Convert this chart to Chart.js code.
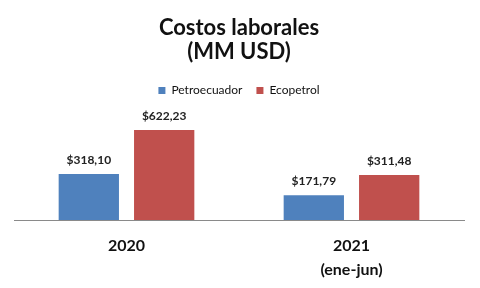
<!DOCTYPE html>
<html>
<head>
<meta charset="utf-8">
<script src="https://cdn.jsdelivr.net/npm/chart.js@4/dist/chart.umd.min.js"></script>
<style>
  body { margin: 0; background: #fff; }
  canvas { display: block; }
</style>
</head>
<body>
<canvas id="chart" width="480" height="288"></canvas>
<script>
const categories = [["2020"], ["2021", "(ene-jun)"]];
const petroecuador = [318.10, 171.79];
const ecopetrol = [622.23, 311.48];
const titleLines = ["Costos laborales", "(MM USD)"];

const blue = "#4F81BD";
const red = "#C0504D";
const font = "Lato, 'Open Sans', sans-serif";

// "$318,10" style labels above each bar
const fmt = v => "$" + v.toFixed(2).replace(".", ",");

const valueLabels = {
    id: "valueLabels",
    afterDatasetsDraw(chart) {
        const ctx = chart.ctx;
        ctx.save();
        ctx.font = "bold 12px " + font;
        ctx.fillStyle = "#222";
        ctx.textAlign = "center";
        ctx.textBaseline = "bottom";
        chart.data.datasets.forEach((ds, i) => {
            chart.getDatasetMeta(i).data.forEach((bar, j) => {
                ctx.fillText(fmt(ds.data[j]), bar.x, bar.y - 8);
            });
        });
        ctx.restore();
    }
};

const config = {
    type: 'bar',
    data: {
        labels: categories,
        datasets: [{
            label: 'Petroecuador',
            data: petroecuador,
            backgroundColor: blue,
            categoryPercentage: 0.67,
            barPercentage: 0.8
        }, {
            label: 'Ecopetrol',
            data: ecopetrol,
            backgroundColor: red,
            categoryPercentage: 0.67,
            barPercentage: 0.8
        }]
    },
    options: {
        responsive: false,
        animation: false,
        layout: {
            padding: {left: 14, right: 16, top: 0, bottom: 0}
        },
        plugins: {
            title: {
                display: true,
                text: titleLines,
                color: "#111",
                font: {family: font, size: 22, weight: 'bold', lineHeight: 1.1},
                padding: {top: 16, bottom: 6}
            },
            legend: {
                display: true,
                labels: {
                    boxWidth: 7,
                    boxHeight: 7,
                    color: "#111",
                    padding: 14,
                    font: {family: font, size: 12}
                }
            },
            tooltip: {enabled: false}
        },
        scales: {
            x: {
                grid: {display: false},
                border: {display: true, color: "#8a8a8a", width: 1},
                ticks: {
                    color: "#111",
                    padding: 6,
                    font: {family: font, size: 16, weight: 'bold', lineHeight: 1.5}
                }
            },
            y: {
                display: false,
                min: 0,
                max: 785
            }
        }
    },
    plugins: [valueLabels]
};

new Chart(document.getElementById("chart"), config);
</script>
</body>
</html>
